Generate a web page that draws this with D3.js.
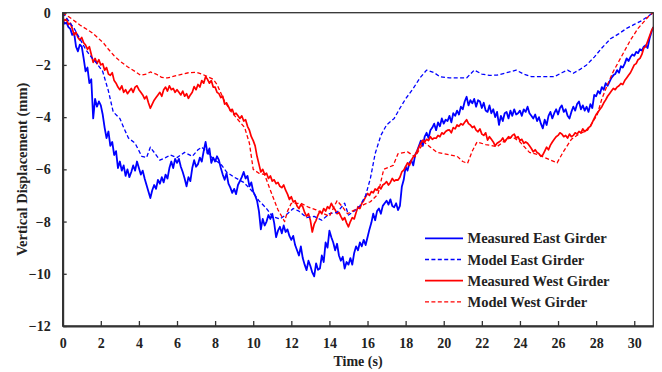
<!DOCTYPE html>
<html>
<head>
<meta charset="utf-8">
<script src="https://cdn.jsdelivr.net/npm/d3@7"></script>
<style>
  body { margin: 0; background: #fff; }
  text { font-family: "Liberation Serif", "Times New Roman", serif; font-weight: bold; fill: #222; }
</style>
</head>
<body>
<div id="chart"></div>
<script>
var width = 662, height = 372;
var margin = {top: 12.7, right: 8.7, bottom: 46, left: 62.7};

// sampling step for measured records (s)
var step = 0.1;

var measuredEast = [
  -0.30,-0.42,-0.38,-0.55,-0.62,-0.85,-0.78,-1.30,-1.48,-1.22,
  -1.30,-1.75,-2.25,-2.10,-2.70,-2.55,-4.05,-3.30,-3.60,-3.40,
  -3.55,-3.90,-4.40,-4.80,-4.55,-5.10,-4.95,-5.45,-5.30,-5.95,
  -5.70,-6.05,-5.85,-6.25,-6.00,-6.30,-6.10,-5.85,-6.05,-5.70,
  -5.95,-6.20,-6.05,-6.35,-6.60,-6.85,-7.10,-6.80,-6.60,-6.75,
  -6.40,-6.55,-6.30,-6.50,-6.20,-6.35,-5.95,-5.70,-5.95,-5.60,
  -5.75,-5.60,-5.90,-6.10,-6.35,-6.65,-6.30,-6.45,-5.95,-5.65,
  -5.90,-5.80,-5.55,-5.70,-5.30,-4.95,-5.40,-5.20,-5.75,-5.55,
  -5.70,-5.50,-5.65,-5.95,-6.20,-6.40,-6.15,-6.55,-6.70,-6.90,
  -6.75,-6.95,-6.60,-6.45,-6.30,-6.10,-6.35,-6.25,-6.65,-6.50,
  -6.85,-7.00,-7.20,-7.60,-8.30,-7.90,-8.15,-8.00,-7.75,-7.90,
  -7.70,-8.05,-8.60,-8.35,-8.20,-8.45,-8.15,-8.40,-8.30,-8.55,
  -8.70,-8.55,-8.90,-9.10,-9.30,-8.95,-9.40,-9.65,-9.86,-9.50,
  -9.70,-9.95,-10.10,-9.60,-9.85,-9.80,-9.30,-9.55,-8.80,-9.00,
  -8.35,-8.60,-8.80,-9.10,-8.85,-9.30,-9.50,-9.35,-9.80,-9.55,
  -9.65,-9.40,-9.65,-9.20,-8.95,-9.10,-8.80,-8.95,-8.70,-8.90,
  -8.60,-8.30,-8.05,-7.70,-7.95,-7.60,-7.50,-7.70,-7.40,-7.30,
  -7.20,-7.35,-7.15,-7.40,-7.45,-7.30,-7.56,-7.40,-6.67,-6.40,
  -5.90,-6.05,-5.75,-5.65,-5.85,-5.45,-5.30,-5.10,-4.90,-5.10,
  -4.75,-4.60,-4.80,-4.50,-4.40,-4.25,-4.50,-4.20,-4.35,-4.05,
  -4.25,-4.10,-4.15,-3.95,-4.20,-3.85,-3.95,-3.75,-3.90,-3.60,
  -3.70,-3.40,-3.22,-3.55,-3.35,-3.47,-3.30,-3.60,-3.35,-3.40,
  -3.65,-3.45,-3.75,-3.80,-3.55,-3.85,-3.70,-4.00,-3.80,-4.30,
  -3.95,-4.15,-3.85,-3.80,-4.05,-3.75,-3.95,-3.70,-3.90,-3.85,
  -3.75,-3.95,-3.70,-3.80,-3.60,-3.85,-3.95,-4.05,-3.90,-4.15,
  -4.00,-4.25,-4.43,-4.10,-4.30,-3.95,-3.80,-4.05,-3.85,-3.70,
  -3.90,-3.65,-3.55,-3.80,-3.70,-3.95,-4.05,-3.80,-3.60,-3.75,
  -3.50,-3.40,-3.70,-3.55,-3.75,-3.60,-3.80,-3.50,-3.65,-3.15,
  -3.20,-3.00,-3.10,-2.85,-2.95,-2.70,-2.80,-2.65,-2.50,-2.40,
  -2.35,-2.20,-2.30,-2.05,-2.10,-1.95,-1.75,-1.85,-1.70,-1.60,
  -1.65,-1.50,-1.55,-1.40,-1.45,-1.30,-1.25,-1.35,-1.00,-0.75,
  -0.55
];

var measuredWest = [
  -0.20,-0.30,-0.25,-0.45,-0.40,-0.60,-0.85,-0.75,-0.95,-1.05,
  -0.95,-1.15,-1.24,-1.40,-1.30,-1.60,-1.90,-1.75,-1.95,-1.80,
  -2.00,-1.95,-2.20,-2.10,-2.35,-2.40,-2.30,-2.60,-2.70,-2.85,
  -2.95,-2.80,-3.05,-2.95,-3.10,-3.00,-2.90,-3.05,-2.85,-2.80,
  -2.95,-3.05,-3.15,-3.30,-3.20,-3.45,-3.66,-3.50,-3.35,-3.25,
  -3.15,-3.05,-3.20,-2.95,-2.85,-3.00,-2.80,-2.95,-2.90,-3.05,
  -2.95,-3.05,-3.15,-3.00,-3.20,-3.10,-3.28,-3.15,-3.05,-2.83,
  -2.95,-2.75,-2.85,-2.60,-2.70,-2.45,-2.55,-2.70,-2.60,-2.85,
  -2.85,-3.05,-3.10,-3.25,-3.20,-3.50,-3.45,-3.60,-3.75,-3.70,
  -3.90,-3.85,-3.95,-4.05,-3.95,-4.15,-4.10,-4.35,-4.50,-4.75,
  -4.90,-5.10,-5.50,-5.80,-6.10,-6.00,-6.20,-6.15,-6.35,-6.25,
  -6.45,-6.40,-6.55,-6.50,-6.65,-6.70,-6.60,-6.80,-6.95,-7.15,
  -7.05,-7.25,-7.20,-7.40,-7.50,-7.35,-7.43,-7.65,-7.80,-7.70,
  -7.95,-8.40,-8.10,-7.95,-7.75,-7.60,-7.70,-7.50,-7.60,-7.43,
  -7.50,-7.30,-7.45,-7.55,-7.70,-7.65,-7.80,-7.94,-7.85,-8.05,
  -8.20,-8.00,-7.85,-7.90,-7.65,-7.43,-7.50,-7.30,-7.20,-7.05,
  -6.92,-7.00,-6.85,-6.90,-6.75,-6.80,-6.67,-6.75,-6.60,-6.55,
  -6.47,-6.60,-6.50,-6.35,-6.45,-6.40,-6.41,-6.30,-6.10,-6.03,
  -5.90,-5.75,-5.85,-5.65,-5.52,-5.45,-5.30,-5.15,-5.00,-4.88,
  -4.95,-4.85,-4.90,-4.75,-4.85,-4.80,-4.81,-4.70,-4.75,-4.60,
  -4.65,-4.55,-4.50,-4.49,-4.60,-4.40,-4.45,-4.30,-4.35,-4.25,
  -4.30,-4.20,-4.10,-4.25,-4.30,-4.40,-4.35,-4.50,-4.56,-4.45,
  -4.65,-4.70,-4.60,-4.88,-4.75,-4.85,-4.95,-5.10,-5.00,-4.95,
  -4.90,-4.80,-4.95,-4.85,-4.75,-4.80,-4.70,-4.65,-4.80,-4.75,
  -4.90,-4.85,-5.00,-4.95,-5.00,-5.10,-5.20,-5.33,-5.25,-5.35,
  -5.40,-5.50,-5.45,-5.30,-5.15,-5.25,-5.07,-4.95,-4.85,-4.75,
  -4.70,-4.60,-4.65,-4.75,-4.70,-4.80,-4.65,-4.75,-4.70,-4.60,
  -4.65,-4.55,-4.60,-4.45,-4.55,-4.49,-4.40,-4.35,-4.20,-4.05,
  -3.90,-3.80,-3.70,-3.60,-3.45,-3.34,-3.20,-3.10,-3.00,-2.90,
  -2.95,-2.85,-2.80,-2.71,-2.75,-2.60,-2.50,-2.40,-2.30,-2.15,
  -2.00,-1.95,-1.80,-1.75,-1.60,-1.36,-1.30,-1.10,-0.90,-0.70,
  -0.55
];

// model results: [time (s), displacement (mm)]
var modelEast = [
  [0,0],[0.3,-0.3],[0.6,-0.6],[0.9,-1.0],[1.2,-1.4],[1.5,-1.7],[1.8,-1.95],[2.1,-2.25],
  [2.4,-3.0],[2.65,-3.8],[3.0,-4.05],[3.2,-4.4],[3.45,-4.8],[3.8,-5.0],[4.15,-5.5],[4.4,-5.55],
  [4.6,-5.15],[4.85,-5.4],[5.1,-5.65],[5.4,-5.55],[5.65,-5.45],[6.0,-5.55],[6.4,-5.35],[6.8,-5.5],
  [7.1,-5.25],[7.3,-5.15],[7.6,-5.35],[7.9,-5.6],[8.3,-5.8],[8.6,-6.1],[9.0,-6.3],[9.5,-6.5],
  [9.9,-6.8],[10.3,-7.2],[10.7,-7.5],[11.0,-7.8],[11.4,-7.9],[11.8,-7.7],[12.1,-7.5],[12.4,-7.6],
  [12.8,-7.85],[13.2,-7.8],[13.6,-7.95],[14.0,-7.7],[14.4,-7.65],[14.8,-7.3],[15.0,-7.75],[15.3,-7.6],
  [15.6,-7.4],[15.9,-7.0],[16.15,-6.35],[16.4,-5.4],[16.7,-4.7],[17.0,-4.3],[17.4,-4.05],[17.7,-3.66],
  [18.0,-3.3],[18.4,-2.9],[18.75,-2.5],[19.1,-2.2],[19.5,-2.3],[19.8,-2.45],[20.3,-2.5],[20.8,-2.5],
  [21.2,-2.5],[21.6,-2.2],[22.0,-2.35],[22.4,-2.4],[22.8,-2.39],[23.3,-2.3],[23.8,-2.2],[24.2,-2.35],
  [24.6,-2.45],[25.2,-2.45],[25.8,-2.45],[26.2,-2.3],[26.5,-2.2],[26.8,-2.32],[27.2,-2.15],[27.5,-2.0],
  [27.9,-1.7],[28.3,-1.35],[28.75,-1.0],[29.2,-0.8],[29.6,-0.6],[30.0,-0.45],[30.4,-0.3],[30.8,-0.1],[31,0]
];

var modelWest = [
  [0,0],[0.2,-0.1],[0.5,-0.25],[0.9,-0.47],[1.3,-0.65],[1.6,-0.8],[1.9,-1.0],[2.15,-1.17],
  [2.4,-1.4],[2.7,-1.65],[3.0,-1.85],[3.4,-2.07],[3.8,-2.25],[4.1,-2.4],[4.4,-2.35],[4.6,-2.27],
  [4.9,-2.35],[5.2,-2.48],[5.5,-2.5],[5.9,-2.42],[6.3,-2.35],[6.6,-2.3],[7.0,-2.28],[7.3,-2.35],
  [7.6,-2.45],[7.9,-2.55],[8.1,-2.75],[8.5,-3.4],[8.8,-3.75],[9.2,-4.1],[9.55,-4.4],[9.8,-5.0],
  [10.0,-6.0],[10.3,-6.15],[10.6,-6.2],[10.9,-6.8],[11.3,-7.55],[11.65,-8.0],[11.8,-7.6],[12.0,-7.3],
  [12.5,-7.3],[12.9,-7.45],[13.3,-7.55],[13.7,-7.7],[14.0,-7.8],[14.4,-7.2],[14.7,-7.45],[14.95,-7.7],
  [15.2,-7.6],[15.5,-7.5],[15.8,-7.35],[16.15,-7.24],[16.55,-6.95],[16.85,-6.0],[17.35,-5.85],[17.6,-5.4],
  [18.1,-5.33],[18.5,-5.52],[18.95,-4.95],[19.3,-5.15],[19.65,-5.35],[20.0,-5.4],[20.35,-5.45],[20.7,-5.5],
  [21.0,-5.7],[21.25,-5.77],[21.5,-5.3],[21.75,-4.95],[22.2,-5.05],[22.8,-5.13],[23.2,-4.9],[23.6,-4.75],
  [24.0,-4.95],[24.5,-5.35],[25.0,-5.45],[25.4,-5.58],[25.95,-5.75],[26.3,-5.3],[26.7,-4.85],[27.1,-4.65],
  [27.55,-4.5],[28.05,-3.92],[28.3,-3.3],[28.6,-2.75],[28.9,-2.25],[29.2,-1.85],[29.5,-1.45],[29.8,-1.05],
  [30.2,-0.6],[30.5,-0.35],[30.8,-0.1],[31,0]
];

var xTicks = [0,2,4,6,8,10,12,14,16,18,20,22,24,26,28,30];
var yTicks = [0,-2,-4,-6,-8,-10,-12];

var legendNames = ["Measured East Girder", "Model East Girder", "Measured West Girder", "Model West Girder"];

var svg = d3.select("#chart").append("svg")
  .attr("width", width)
  .attr("height", height);

var x = d3.scaleLinear().domain([0, 31]).range([margin.left, width - margin.right]);
var y = d3.scaleLinear().domain([-12, 0]).range([height - margin.bottom, margin.top]);

var line = d3.line()
  .x(function (d) { return x(d[0]); })
  .y(function (d) { return y(d[1]); });

function toPairs(arr) {
  return arr.map(function (v, i) { return [i * step, v]; });
}

var series = [
  {data: toPairs(measuredEast), color: "#0000ff", dash: null, w: 1.8},
  {data: modelEast, color: "#0000ff", dash: "4,2.4", w: 1.3},
  {data: toPairs(measuredWest), color: "#ff0000", dash: null, w: 1.7},
  {data: modelWest, color: "#ff0000", dash: "4,2.4", w: 1.3}
];

// measured lines first, model lines on top
var order = [0, 2, 1, 3];
svg.selectAll("path.series")
  .data(order.map(function (i) { return series[i]; }))
  .enter().append("path")
  .attr("class", "series")
  .attr("d", function (d) { return line(d.data); })
  .attr("fill", "none")
  .attr("stroke", function (d) { return d.color; })
  .attr("stroke-width", function (d) { return d.w; })
  .attr("stroke-dasharray", function (d) { return d.dash; })
  .attr("stroke-linejoin", "round");

// frame
svg.append("rect")
  .attr("x", x(0))
  .attr("y", y(0))
  .attr("width", x(31) - x(0))
  .attr("height", y(-12) - y(0))
  .attr("fill", "none")
  .attr("stroke", "#333")
  .attr("stroke-width", 1.3);

// x axis, ticks inside
var xaxis = d3.axisBottom(x)
  .tickValues(xTicks)
  .tickSize(-5)
  .tickSizeOuter(0)
  .tickPadding(12);

var gx = svg.append("g")
  .attr("transform", "translate(0," + y(-12) + ")")
  .call(xaxis);
gx.select(".domain").attr("stroke", "#333").attr("stroke-width", 2);
gx.selectAll(".tick line").attr("stroke", "#333").attr("stroke-width", 1.3);
gx.selectAll(".tick text").style("font-size", "14px").attr("fill", "#222");

// y axis, ticks inside
var yaxis = d3.axisLeft(y)
  .tickValues(yTicks)
  .tickSize(-4)
  .tickSizeOuter(0)
  .tickPadding(12);

var gy = svg.append("g")
  .attr("transform", "translate(" + x(0) + ",0)")
  .call(yaxis);
gy.select(".domain").attr("stroke", "#333").attr("stroke-width", 2);
gy.selectAll(".tick line").attr("stroke", "#333").attr("stroke-width", 1.3);
gy.selectAll(".tick text").style("font-size", "14px").attr("fill", "#222");

// axis titles
svg.append("text")
  .attr("x", (x(0) + x(31)) / 2)
  .attr("y", 366)
  .attr("text-anchor", "middle")
  .style("font-size", "14px")
  .text("Time (s)");

svg.append("text")
  .attr("transform", "translate(26.5," + (y(-6)) + ") rotate(-90)")
  .attr("text-anchor", "middle")
  .style("font-size", "14.5px")
  .text("Vertical Displacement (mm)");

// legend
var legend = svg.append("g").attr("transform", "translate(425,238.3)");
var rows = legend.selectAll("g")
  .data(legendNames)
  .enter().append("g")
  .attr("transform", function (d, i) { return "translate(0," + i * 21.2 + ")"; });

rows.append("line")
  .attr("x1", 0).attr("x2", 38)
  .attr("y1", 0).attr("y2", 0)
  .attr("stroke", function (d, i) { return series[i].color; })
  .attr("stroke-width", function (d, i) { return series[i].w; })
  .attr("stroke-dasharray", function (d, i) { return series[i].dash; });

rows.append("text")
  .attr("x", 42.5)
  .attr("y", 5)
  .style("font-size", "14.5px")
  .text(function (d) { return d; });
</script>
</body>
</html>
